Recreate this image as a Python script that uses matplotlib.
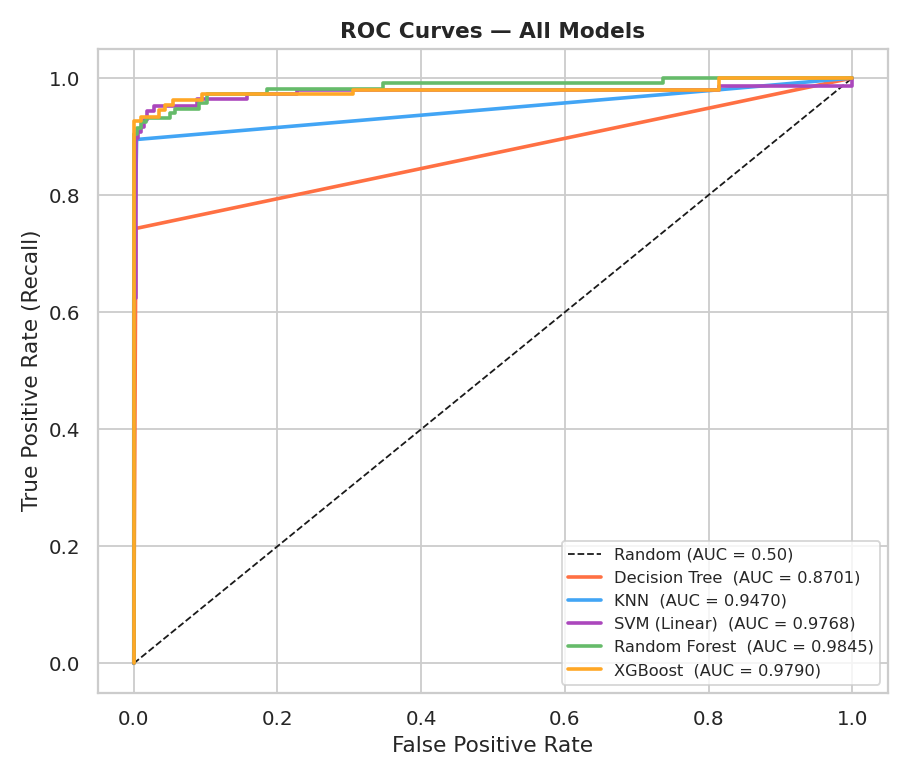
import matplotlib
matplotlib.use("Agg")
import matplotlib.pyplot as plt
import seaborn as sns

# ROC vertices
dt_fpr = [0.0, 0.003, 1.0]
dt_tpr = [0.0, 0.743, 1.0]

knn_fpr = [0.0, 0.0, 0.004, 0.815, 1.0]
knn_tpr = [0.0, 0.62, 0.895, 0.980, 1.0]

svm_fpr = [0.0, 0.0, 0.003, 0.003, 0.006, 0.006, 0.010, 0.010, 0.014, 0.014, 0.019, 0.019,
           0.028, 0.028, 0.088, 0.088, 0.158, 0.158, 0.227, 0.227, 0.815, 0.815, 1.0, 1.0]
svm_tpr = [0.0, 0.625, 0.625, 0.897, 0.897, 0.908, 0.908, 0.917, 0.917, 0.928, 0.928, 0.944,
           0.944, 0.953, 0.953, 0.964, 0.964, 0.972, 0.972, 0.980, 0.980, 0.987, 0.987, 1.0]

rf_fpr = [0.0, 0.0, 0.004, 0.004, 0.010, 0.010, 0.017, 0.017, 0.051, 0.051, 0.058, 0.058,
          0.091, 0.091, 0.102, 0.102, 0.186, 0.186, 0.347, 0.347, 0.736, 0.736, 1.0]
rf_tpr = [0.0, 0.905, 0.905, 0.915, 0.915, 0.925, 0.925, 0.932, 0.932, 0.940, 0.940, 0.947,
          0.947, 0.957, 0.957, 0.972, 0.972, 0.981, 0.981, 0.991, 0.991, 1.0, 1.0]

xgb_fpr = [0.0, 0.0, 0.010, 0.010, 0.035, 0.035, 0.044, 0.044, 0.054, 0.054, 0.095, 0.095,
           0.305, 0.305, 0.815, 0.815, 1.0]
xgb_tpr = [0.0, 0.926, 0.926, 0.933, 0.933, 0.945, 0.945, 0.954, 0.954, 0.963, 0.963, 0.972,
           0.972, 0.980, 0.980, 1.0, 1.0]

models = ["Decision Tree", "KNN", "SVM (Linear)", "Random Forest", "XGBoost"]
aucs = [0.8701, 0.9470, 0.9768, 0.9845, 0.9790]
colors = ["#FF7043", "#42A5F5", "#AB47BC", "#66BB6A", "#FFA726"]
curves = [(dt_fpr, dt_tpr), (knn_fpr, knn_tpr), (svm_fpr, svm_tpr),
          (rf_fpr, rf_tpr), (xgb_fpr, xgb_tpr)]

sns.set_theme(style="whitegrid")

fig, ax = plt.subplots(figsize=(7, 6), dpi=130)
ax.plot([0, 1], [0, 1], "k--", lw=1, label="Random (AUC = 0.50)")
for name, auc, col, (fpr, tpr) in zip(models, aucs, colors, curves):
    ax.plot(fpr, tpr, color=col, lw=2, label=f"{name}  (AUC = {auc:.4f})")

ax.set_xlabel("False Positive Rate", fontsize=12)
ax.set_ylabel("True Positive Rate (Recall)", fontsize=12)
ax.set_title("ROC Curves — All Models", fontsize=12, fontweight="bold")
ax.tick_params(labelsize=11)
ax.legend(loc="lower right", fontsize=9)

plt.subplots_adjust(left=0.1075, right=0.976, top=0.9375, bottom=0.112)
plt.savefig("out.png")
